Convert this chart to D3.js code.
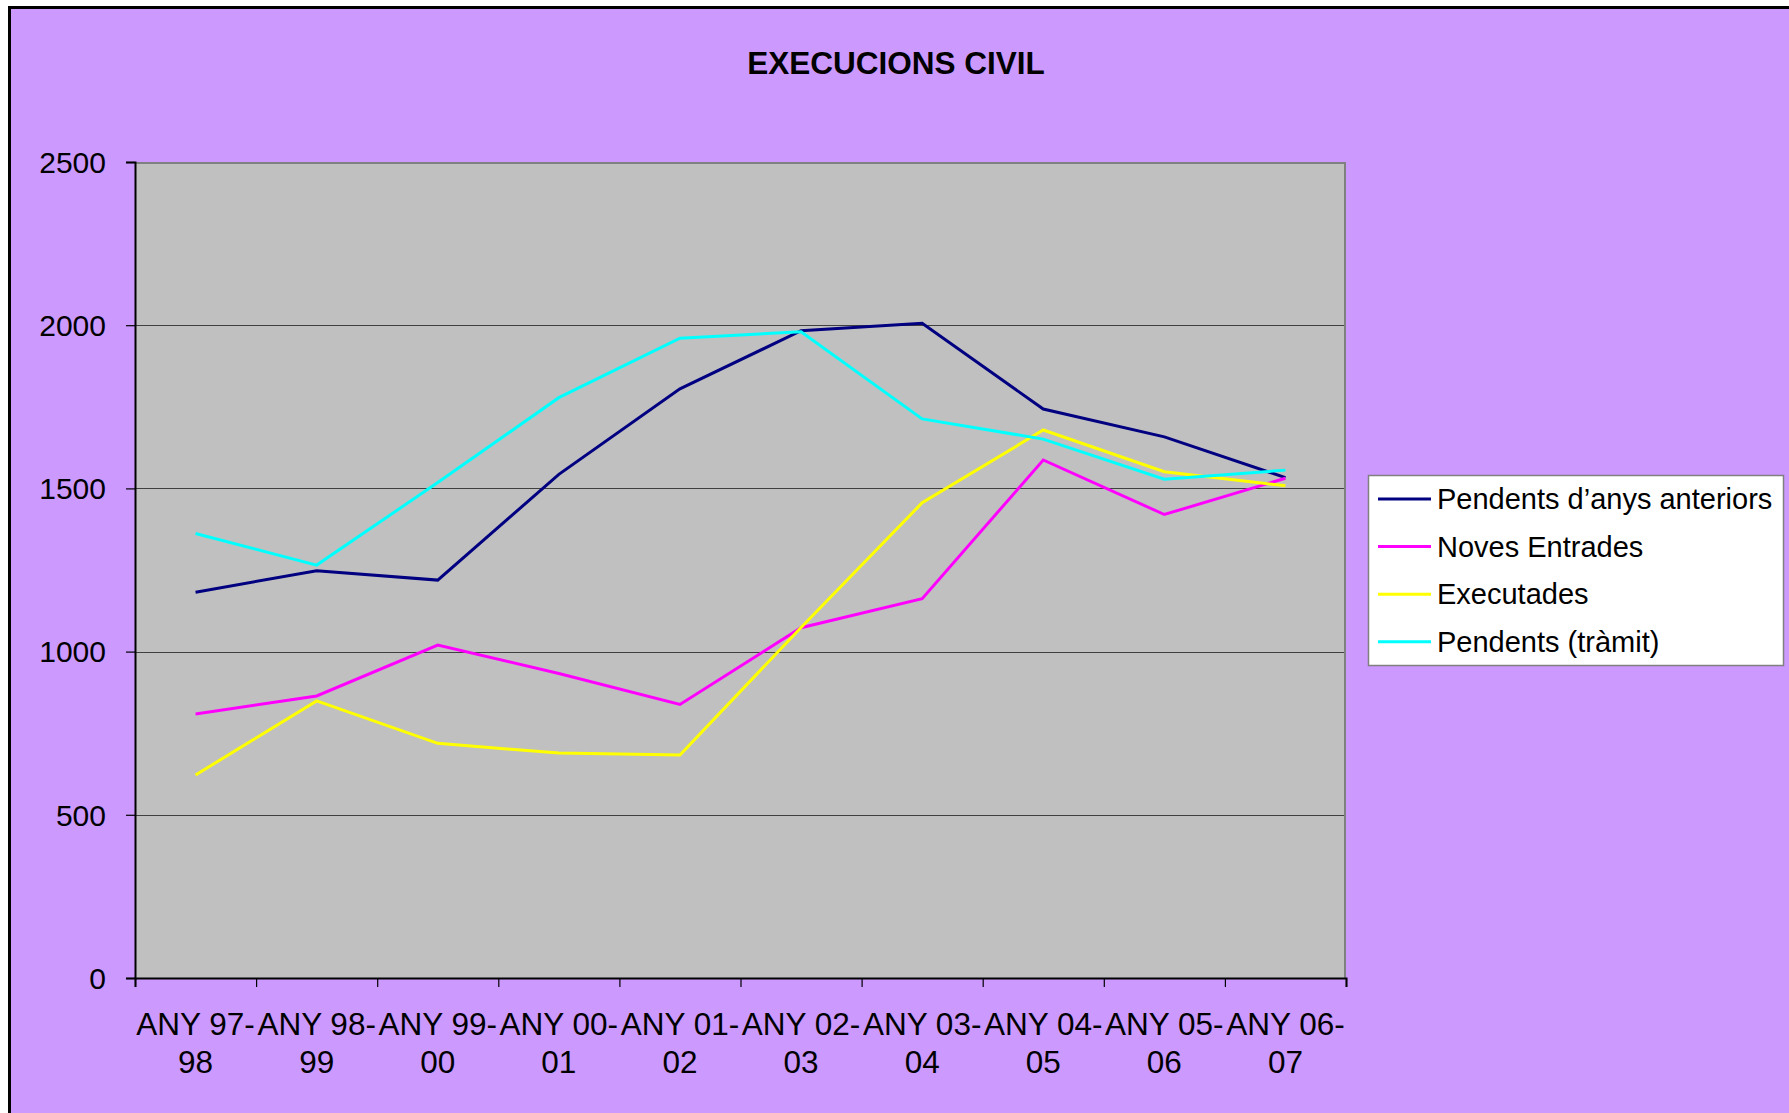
<!DOCTYPE html>
<html>
<head>
<meta charset="utf-8">
<script src="https://cdn.jsdelivr.net/npm/d3@7"></script>
<style>
  html, body { margin: 0; padding: 0; background: #ffffff; }
  svg { display: block; }
  text { font-family: "Liberation Sans", Arial, sans-serif; fill: #000; }
</style>
</head>
<body>
<svg id="chart" width="1789" height="1113"></svg>
<script>
const title = "EXECUCIONS CIVIL";
const categories = ["ANY 97-98","ANY 98-99","ANY 99-00","ANY 00-01","ANY 01-02","ANY 02-03","ANY 03-04","ANY 04-05","ANY 05-06","ANY 06-07"];
const yTicks = [0, 500, 1000, 1500, 2000, 2500];
const seriesNames = ["Pendents d\u2019anys anteriors", "Noves Entrades", "Executades", "Pendents (tr\u00e0mit)"];
const seriesColors = ["#000080", "#FF00FF", "#FFFF00", "#00FFFF"];
const pendentsAnteriors = [1182, 1248, 1219, 1543, 1805, 1983, 2006, 1743, 1658, 1533];
const novesEntrades     = [809, 864, 1020, 933, 838, 1073, 1162, 1587, 1420, 1531];
const executades        = [622, 849, 719, 689, 683, 1074, 1456, 1679, 1551, 1508];
const pendentsTramit    = [1362, 1265, 1518, 1778, 1960, 1980, 1713, 1651, 1528, 1556];

const seriesValues = [pendentsAnteriors, novesEntrades, executades, pendentsTramit];
const series = seriesNames.map((name, i) => ({ name, color: seriesColors[i], values: seriesValues[i] }));

const svg = d3.select("#chart");
const W = 1789, H = 1113;

// chart area background + border (left/top visible)
svg.append("rect").attr("x", 9.5).attr("y", 7.5).attr("width", W + 20).attr("height", H + 20)
  .attr("fill", "#CC99FF").attr("stroke", "#000").attr("stroke-width", 3);

const plot = { left: 135, right: 1346, top: 162, bottom: 978 };

const x = d3.scaleBand().domain(categories).range([plot.left, plot.right]).padding(0);
const y = d3.scaleLinear().domain([0, 2500]).range([plot.bottom, plot.top]);

// title
svg.append("text").attr("x", 896).attr("y", 74).attr("text-anchor", "middle")
  .style("font-size", "31.5px").style("font-weight", "bold").text(title);

// plot area
svg.append("rect").attr("x", plot.left).attr("y", plot.top)
  .attr("width", plot.right - plot.left).attr("height", plot.bottom - plot.top)
  .attr("fill", "#C0C0C0");

// gridlines
svg.append("g").selectAll("line").data(yTicks.filter(t => t > 0 && t < 2500)).join("line")
  .attr("x1", plot.left).attr("x2", plot.right)
  .attr("y1", d => Math.round(y(d)) + 0.5).attr("y2", d => Math.round(y(d)) + 0.5)
  .attr("stroke", "#404040").attr("stroke-width", 1.2);

// top & right border of plot (gray)
svg.append("path")
  .attr("d", `M${plot.left},${plot.top + 1}H${plot.right - 1}V${plot.bottom}`)
  .attr("fill", "none").attr("stroke", "#808080").attr("stroke-width", 2);

// y axis
const yAxis = d3.axisLeft(y).tickValues(yTicks).tickSize(9).tickPadding(20).tickFormat(d3.format("d"));
const gy = svg.append("g").attr("transform", `translate(${plot.left},0)`).call(yAxis);
gy.select(".domain").attr("stroke", "#000").attr("stroke-width", 2);
gy.selectAll(".tick line").attr("stroke", "#000").attr("stroke-width", 1.2);
gy.selectAll(".tick text").style("font-size", "30px").attr("font-family", null).attr("dy", "0.34em");

// x axis (ticks at band boundaries)
const xb = d3.scaleLinear().domain([0, categories.length]).range([plot.left, plot.right]);
const xAxis = d3.axisBottom(xb).tickValues(d3.range(categories.length + 1)).tickSize(9).tickFormat("");
const gx = svg.append("g").attr("transform", `translate(0,${plot.bottom})`).call(xAxis);
gx.select(".domain").attr("stroke", "#000").attr("stroke-width", 2);
gx.selectAll(".tick line").attr("stroke", "#000").attr("stroke-width", 1.2);

// x labels (wrapped after hyphen)
const xl = svg.append("g").selectAll("text").data(categories).join("text")
  .attr("text-anchor", "middle").style("font-size", "31.5px");
xl.each(function(d) {
  const m = d.match(/^(.*-)(.*)$/);
  const cx = x(d) + x.bandwidth() / 2;
  const t = d3.select(this);
  t.append("tspan").attr("x", cx).attr("y", 1035).text(m[1]);
  t.append("tspan").attr("x", cx).attr("y", 1073).text(m[2]);
});

// lines
const line = d3.line().x((v, i) => x(categories[i]) + x.bandwidth() / 2).y(v => y(v));
svg.append("g").selectAll("path").data(series).join("path")
  .attr("d", s => line(s.values))
  .attr("fill", "none").attr("stroke", s => s.color).attr("stroke-width", 3);

// legend
const lg = svg.append("g");
lg.append("rect").attr("x", 1368.5).attr("y", 475.5).attr("width", 415).attr("height", 190)
  .attr("fill", "#fff").attr("stroke", "#808080").attr("stroke-width", 1.5);
const rows = lg.selectAll("g.row").data(series).join("g").attr("class", "row")
  .attr("transform", (s, i) => `translate(0,${499 + i * 47.6})`);
rows.append("line").attr("x1", 1378).attr("x2", 1431).attr("y1", 0).attr("y2", 0)
  .attr("stroke", s => s.color).attr("stroke-width", 3);
rows.append("text").attr("x", 1437).attr("y", 10).style("font-size", "29px").text(s => s.name);
</script>
</body>
</html>
